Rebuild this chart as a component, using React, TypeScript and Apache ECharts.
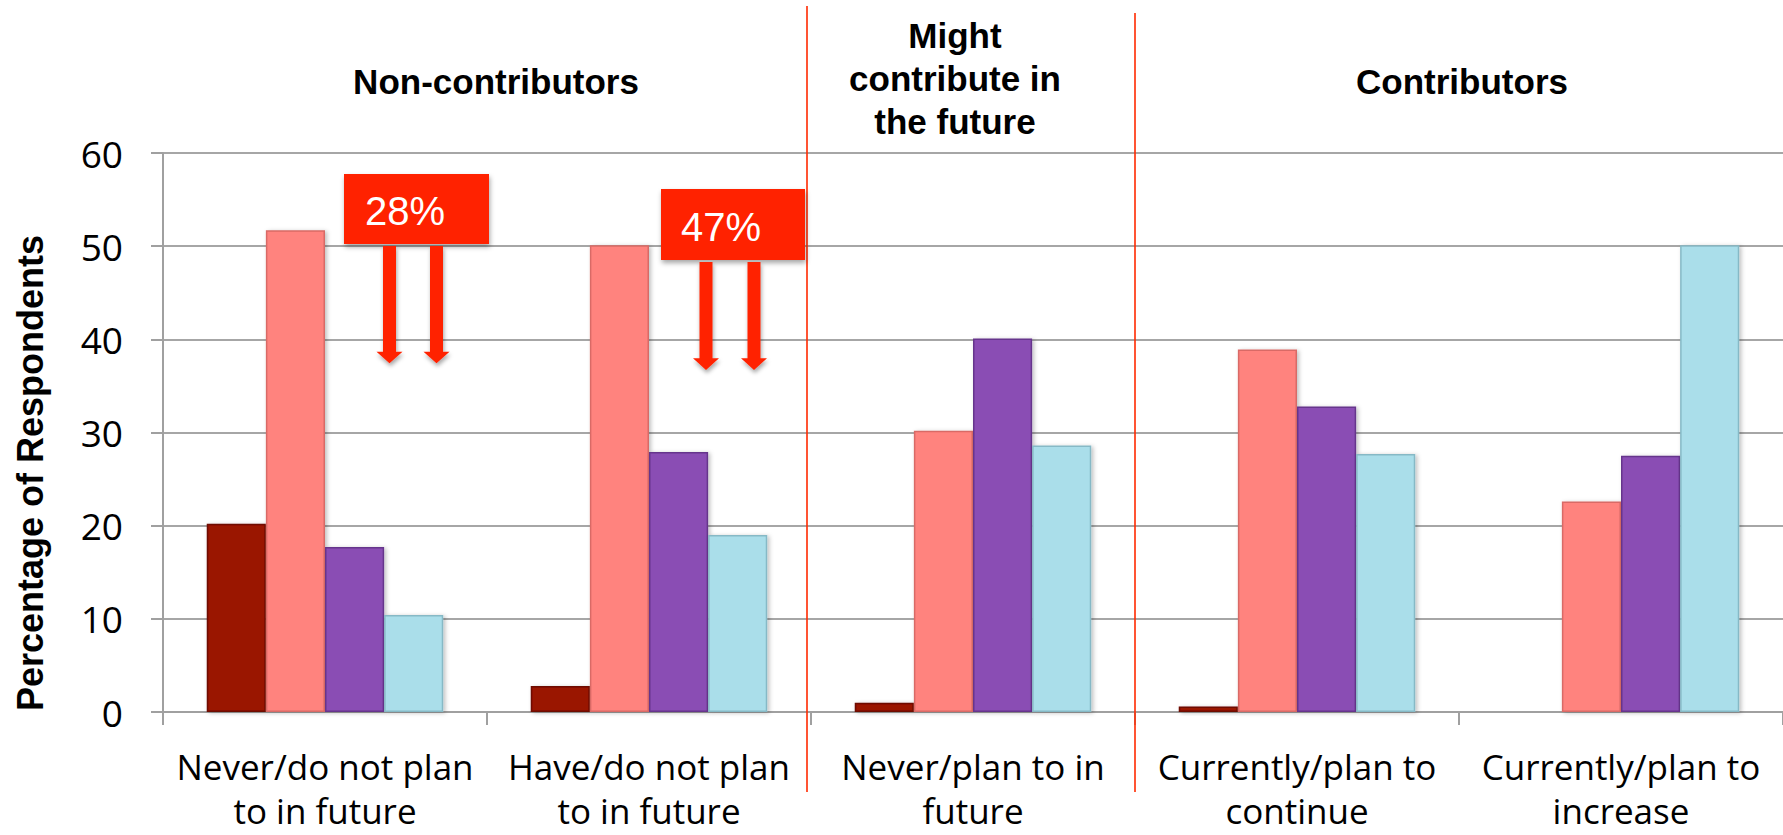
import React, { useEffect, useRef } from "react";
import * as echarts from "echarts";

const categories = [
  "Never/do not plan\nto in future",
  "Have/do not plan\nto in future",
  "Never/plan to in\nfuture",
  "Currently/plan to\ncontinue",
  "Currently/plan to\nincrease",
];
const series1 = [20.2, 2.8, 1.0, 0.6, 0];
const series2 = [51.7, 50.1, 30.2, 38.9, 22.6];
const series3 = [17.7, 27.9, 40.1, 32.8, 27.5];
const series4 = [10.4, 19.0, 28.6, 27.7, 50.1];
const seriesNames = ["Series 1", "Series 2", "Series 3", "Series 4"];
const yTicks = { min: 0, max: 60, interval: 10 };
const groupHeaders = ["Non-contributors", "Might\ncontribute in\nthe future", "Contributors"];
const callouts = ["28%", "47%"];

const colors = ["#9a1300", "#ff837e", "#8a4eb4", "#aadeea"];
const borders = ["#6e0d00", "#d96a66", "#66348c", "#86b9c6"];

function arrow(cx: number, top: number, base: number, tip: number) {
  return {
    type: "polygon",
    shape: {
      points: [
        [cx - 6.5, top],
        [cx + 6.5, top],
        [cx + 6.5, base],
        [cx + 13, base],
        [cx, tip],
        [cx - 13, base],
        [cx - 6.5, base],
      ],
    },
    style: {
      fill: "#ff2400",
      shadowBlur: 4,
      shadowOffsetX: 1,
      shadowOffsetY: 3,
      shadowColor: "rgba(0,0,0,0.35)",
    },
    z: 100,
  };
}

export default function App() {
  const ref = useRef<HTMLDivElement>(null);
  useEffect(() => {
    document.body.style.margin = "0";
    const chart = echarts.init(ref.current!, null, { renderer: "svg" });
    const data = [series1, series2, series3, series4];
    chart.setOption({
      animation: false,
      backgroundColor: "#ffffff",
      grid: { left: 163, right: 0, top: 153, bottom: 123, containLabel: false },
      xAxis: {
        type: "category",
        data: categories,
        axisLine: { lineStyle: { color: "#a0a0a0", width: 2 } },
        axisTick: { show: true, length: 13, lineStyle: { color: "#a0a0a0", width: 2 } },
        axisLabel: {
          color: "#000",
          fontFamily: "Open Sans",
          fontSize: 35,
          lineHeight: 44,
          margin: 32,
          interval: 0,
        },
      },
      yAxis: {
        type: "value",
        min: yTicks.min,
        max: yTicks.max,
        interval: yTicks.interval,
        axisLine: { show: true, lineStyle: { color: "#a0a0a0", width: 2 } },
        axisTick: { show: true, length: 12, lineStyle: { color: "#a0a0a0", width: 2 } },
        splitLine: { lineStyle: { color: "#a6a6a6", width: 2 } },
        axisLabel: {
          color: "#000",
          fontFamily: "Open Sans",
          fontSize: 37,
          margin: 40,
        },
      },
      series: data.map((d, i) => ({
        name: seriesNames[i],
        type: "bar",
        data: d,
        barGap: "0%",
        barCategoryGap: "27%",
        itemStyle: {
          color: colors[i],
          borderColor: borders[i],
          borderWidth: 1.5,
          shadowBlur: 4,
          shadowOffsetX: 2,
          shadowOffsetY: 1,
          shadowColor: "rgba(0,0,0,0.25)",
        },
      })),
      graphic: [
        {
          type: "line",
          shape: { x1: 807, y1: 6, x2: 807, y2: 792 },
          style: { stroke: "#ff2a00", lineWidth: 1.6 },
          z: 90,
        },
        {
          type: "line",
          shape: { x1: 1135, y1: 13, x2: 1135, y2: 792 },
          style: { stroke: "#ff2a00", lineWidth: 1.6 },
          z: 90,
        },
        {
          type: "text",
          x: 496,
          y: 81,
          style: {
            text: groupHeaders[0],
            font: "bold 35px 'Liberation Sans', Arial, sans-serif",
            fill: "#000",
            align: "center",
            verticalAlign: "middle",
          },
        },
        {
          type: "text",
          x: 955,
          y: 78,
          style: {
            text: groupHeaders[1],
            font: "bold 35px 'Liberation Sans', Arial, sans-serif",
            lineHeight: 43,
            fill: "#000",
            align: "center",
            verticalAlign: "middle",
          },
        },
        {
          type: "text",
          x: 1462,
          y: 81,
          style: {
            text: groupHeaders[2],
            font: "bold 35px 'Liberation Sans', Arial, sans-serif",
            fill: "#000",
            align: "center",
            verticalAlign: "middle",
          },
        },
        {
          type: "text",
          x: 30,
          y: 473,
          rotation: Math.PI / 2,
          style: {
            text: "Percentage of Respondents",
            font: "bold 36px 'Liberation Sans', Arial, sans-serif",
            fill: "#000",
            align: "center",
            verticalAlign: "middle",
          },
        },
        {
          type: "rect",
          shape: { x: 344, y: 174, width: 145, height: 70 },
          style: {
            fill: "#ff2400",
            shadowBlur: 5,
            shadowOffsetX: 1,
            shadowOffsetY: 3,
            shadowColor: "rgba(0,0,0,0.35)",
          },
          z: 100,
        },
        {
          type: "text",
          x: 365,
          y: 211,
          style: {
            text: callouts[0],
            font: "40px 'Liberation Sans', Arial, sans-serif",
            fill: "#fff",
            align: "left",
            verticalAlign: "middle",
          },
          z: 101,
        },
        arrow(389.5, 246, 351.7, 363.3),
        arrow(436.5, 246, 351.7, 363.3),
        {
          type: "rect",
          shape: { x: 661, y: 189, width: 144, height: 71 },
          style: {
            fill: "#ff2400",
            shadowBlur: 5,
            shadowOffsetX: 1,
            shadowOffsetY: 3,
            shadowColor: "rgba(0,0,0,0.35)",
          },
          z: 100,
        },
        {
          type: "text",
          x: 681,
          y: 227,
          style: {
            text: callouts[1],
            font: "40px 'Liberation Sans', Arial, sans-serif",
            fill: "#fff",
            align: "left",
            verticalAlign: "middle",
          },
          z: 101,
        },
        arrow(706, 262, 358.3, 370),
        arrow(754, 262, 358.3, 370),
      ],
    });
    return () => chart.dispose();
  }, []);
  return <div ref={ref} style={{ width: 1783, height: 835 }} />;
}
